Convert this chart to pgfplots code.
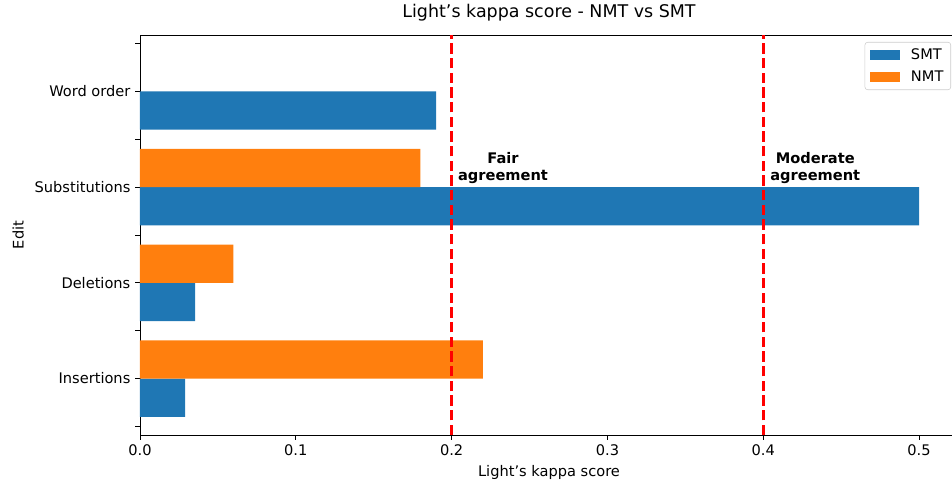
\documentclass[border=0pt]{standalone}
\usepackage{fontspec}
\setmainfont{DejaVu Sans}
\usepackage{pgfplots}
\pgfplotsset{compat=1.18}
\definecolor{tabblue}{HTML}{1F77B4}
\definecolor{taborange}{HTML}{FF7F0E}
\begin{document}
\begin{tikzpicture}
\begin{axis}[
 at={(0,0)}, anchor=south west,
 width=613.5pt, height=300pt, scale only axis,
 xmin=0, xmax=0.525, ymin=-0.59, ymax=3.59,
 xbar, bar width=0.4,
 legend image code/.code={\fill[#1, sharp corners] (0pt,-3.75pt) rectangle (22.5pt,3.75pt);},
 xtick={0,0.1,0.2,0.3,0.4,0.5}, xticklabels={0.0,0.1,0.2,0.3,0.4,0.5},
 ytick={0,1,2,3}, yticklabels={Insertions,Deletions,Substitutions,Word order},
 minor ytick={-0.5,0.5,1.5,2.5,3.5},
 tick align=outside, major tick length=3.7pt, minor tick length=3.7pt,
 tick pos=left,
 tick style={black, line width=0.6pt},
 axis line style={line width=0.6pt},
 ticklabel style={font=\fontsize{10.95}{13}\selectfont},
 title={Light’s kappa score - NMT vs SMT},
 title style={font=\fontsize{13.1}{15.5}\selectfont, at={(axis description cs:0.5,1)}, anchor=base, yshift=6.75pt},
 xlabel={Light’s kappa score},
 xlabel style={font=\fontsize{10.95}{13}\selectfont, at={(axis description cs:0.5,0)}, anchor=base, yshift=-30.75pt},
 ylabel={Edit},
 every axis y label/.style={at={(axis description cs:-0.149,0.5)}, rotate=90, anchor=center, font=\fontsize{10.95}{13}\selectfont},
 legend style={at={(1,1)}, anchor=north east, xshift=-5.25pt, yshift=-5.25pt, draw=black!20, rounded corners=2pt, font=\fontsize{10.95}{13}\selectfont, inner xsep=3.5pt, inner ysep=2.5pt, row sep=3.5pt, /tikz/every odd column/.append style={column sep=6.5pt}},
 legend cell align=left,
]
\addplot[fill=tabblue, draw=none, bar shift=-0.2] coordinates {(0.0289,0) (0.0353,1) (0.5,2) (0.19,3)};
\addlegendentry{SMT}
\addplot[fill=taborange, draw=none, bar shift=0.2] coordinates {(0.22,0) (0.06,1) (0.18,2)};
\addlegendentry{NMT}
\addplot[sharp plot, red, line width=2pt, dash pattern=on 7.7pt off 3.3pt, forget plot] coordinates {(0.2,-0.59) (0.2,3.59)};
\addplot[sharp plot, red, line width=2pt, dash pattern=on 7.7pt off 3.3pt, forget plot] coordinates {(0.4,-0.59) (0.4,3.59)};
\node[anchor=south west, inner sep=0pt, align=center, font=\bfseries\fontsize{10.95}{13}\selectfont] at (axis cs:0.204,2.03) {Fair\\agreement};
\node[anchor=south west, inner sep=0pt, align=center, font=\bfseries\fontsize{10.95}{13}\selectfont] at (axis cs:0.4044,2.03) {Moderate\\agreement};
\end{axis}
\pgfresetboundingbox
\path[use as bounding box] (-105pt,-35.25pt) rectangle (609pt,326.25pt);
\end{tikzpicture}
\end{document}
